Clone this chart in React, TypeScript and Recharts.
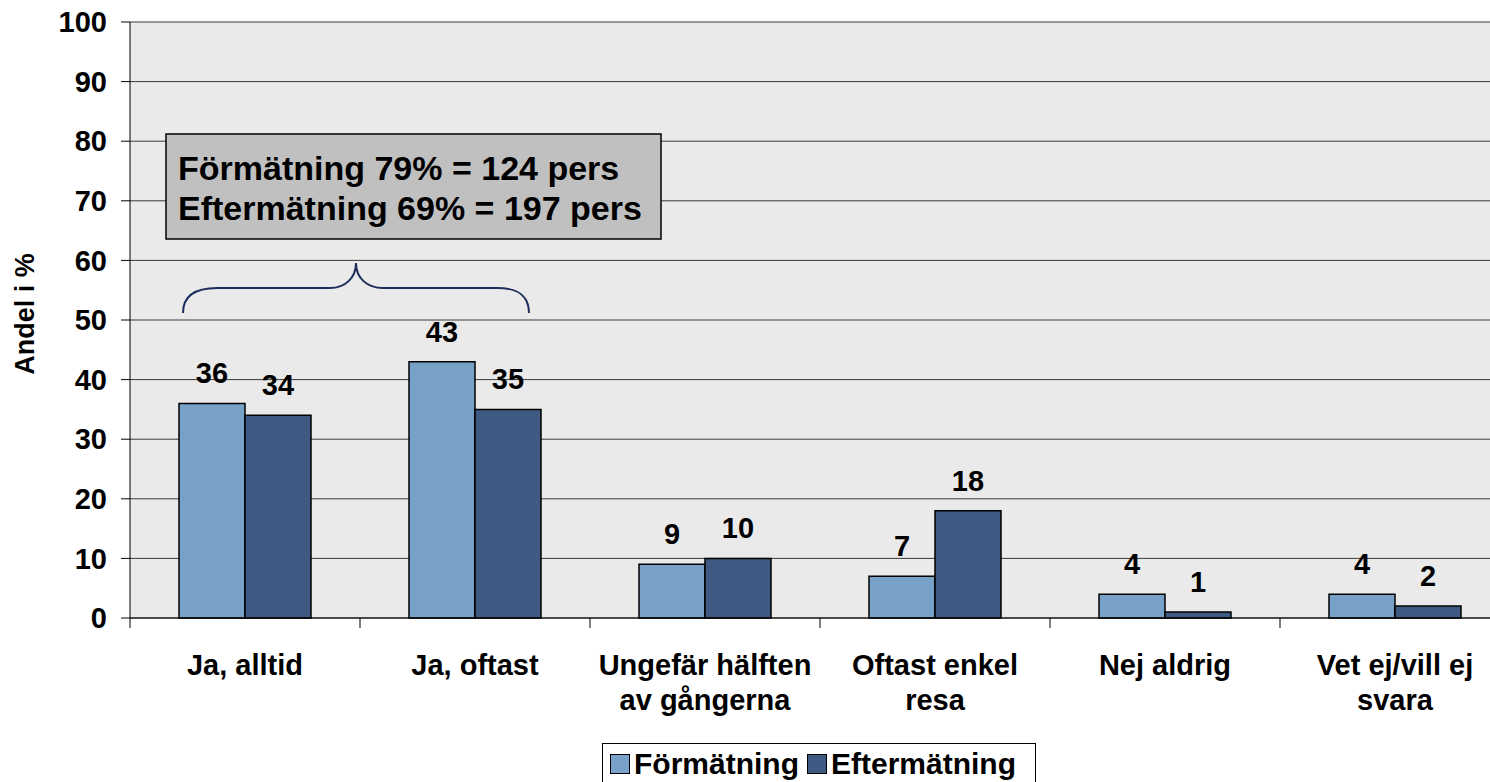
import { BarChart, Bar, XAxis, YAxis, CartesianGrid, Legend, LabelList, Customized } from "recharts";

const categories = ["Ja, alltid", "Ja, oftast", "Ungefär hälften av gångerna", "Oftast enkel resa", "Nej aldrig", "Vet ej/vill ej svara"];
const tickLines = [["Ja, alltid"], ["Ja, oftast"], ["Ungefär hälften", "av gångerna"], ["Oftast enkel", "resa"], ["Nej aldrig"], ["Vet ej/vill ej", "svara"]];
const formatning = [36, 43, 9, 7, 4, 4];
const eftermatning = [34, 35, 10, 18, 1, 2];
const yTicks = [0, 10, 20, 30, 40, 50, 60, 70, 80, 90, 100];
const noteLines = ["Förmätning 79% = 124 pers", "Eftermätning 69% = 197 pers"];

const data = categories.map((c, i) => ({ name: c, f: formatning[i], e: eftermatning[i] }));

const FONT = "'Liberation Sans', Arial, sans-serif";
const LIGHT = "#78A1C8";
const DARK = "#3E5A82";
const W = 1520;
const H = 782;
const LEFT = 130;
const RIGHT = 10;
const HALF = (W - LEFT - RIGHT) / categories.length / 2;

function XTick(props: any) {
    const { x, y, payload } = props;
    const lines = tickLines[payload.index] || [payload.value];
    return (
        <g>
            <line x1={x - HALF} x2={x - HALF} y1={y - 8} y2={y + 2} stroke="#000" />
            <text x={x} y={y + 49} textAnchor="middle" fontSize={29} fontWeight="bold" fontFamily={FONT} fill="#000">
                {lines.map((l: string, i: number) => (
                    <tspan key={i} x={x} dy={i === 0 ? 0 : 35}>{l}</tspan>
                ))}
            </text>
        </g>
    );
}

function Notes() {
    return (
        <g>
            <text x={25} y={314} transform="rotate(-90 25 314)" textAnchor="middle" dominantBaseline="central" fontSize={27} fontWeight="bold" fontFamily={FONT}>Andel i %</text>
            <rect x={166} y={134} width={495} height={105} fill="#C0C0C0" stroke="#000" strokeWidth={1.5} />
            {noteLines.map((l, i) => (
                <text key={i} x={178} y={180 + i * 40} fontSize={34} fontWeight="bold" fontFamily={FONT} fill="#000">{l}</text>
            ))}
            <path d="M183,313 C183,296 195,288 217,288 L330,288 C345,288 356,278 356,263 C356,278 367,288 383,288 L497,288 C519,288 529,296 529,313" fill="none" stroke="#1F2D5C" strokeWidth={2} />
        </g>
    );
}

function LegendBox() {
    const items = [{ label: "Förmätning", color: LIGHT }, { label: "Eftermätning", color: DARK }];
    return (
        <div style={{ border: "1px solid #000", width: 434, height: 60, background: "#fff", display: "flex", alignItems: "flex-start", paddingLeft: 7, boxSizing: "border-box", fontFamily: FONT, fontWeight: "bold", fontSize: 30 }}>
            {items.map((it) => (
                <div key={it.label} style={{ display: "flex", alignItems: "center", marginTop: 4, marginRight: 8, lineHeight: "32px" }}>
                    <span style={{ display: "inline-block", width: 18, height: 18, background: it.color, border: "1.5px solid #000", marginRight: 4 }} />
                    <span>{it.label}</span>
                </div>
            ))}
        </div>
    );
}

export default function App() {
    return (
        <div style={{ position: "fixed", left: 0, top: 0, width: 1490, height: H, overflow: "hidden", background: "#fff" }}>
            <BarChart width={W} height={H} data={data} margin={{ top: 22, right: RIGHT, left: 0, bottom: 0 }} barGap={0} barSize={66}>
                <CartesianGrid vertical={false} fill="#EAEAEA" stroke="#3a3a3a" fillOpacity={1} />
                <XAxis dataKey="name" height={164} interval={0} tickLine={false} axisLine={{ stroke: "#000" }} tick={<XTick />} />
                <YAxis
                    width={LEFT}
                    domain={[0, 100]}
                    ticks={yTicks}
                    interval={0}
                    tickSize={9}
                    tickMargin={14}
                    axisLine={{ stroke: "#000" }}
                    tickLine={{ stroke: "#000" }}
                    tick={{ fontSize: 29, fontWeight: "bold", fontFamily: FONT, fill: "#000" }}
                />
                <Legend layout="horizontal" verticalAlign="middle" align="center" wrapperStyle={{ top: 743, left: 602, width: 434 }} content={() => <LegendBox />} />
                <Bar dataKey="f" name="Förmätning" fill={LIGHT} stroke="#000" strokeWidth={1.5} isAnimationActive={false}>
                    <LabelList dataKey="f" position="top" offset={20} fontSize={29} fontWeight="bold" fontFamily={FONT} fill="#000" />
                </Bar>
                <Bar dataKey="e" name="Eftermätning" fill={DARK} stroke="#000" strokeWidth={1.5} isAnimationActive={false}>
                    <LabelList dataKey="e" position="top" offset={20} fontSize={29} fontWeight="bold" fontFamily={FONT} fill="#000" />
                </Bar>
                <Customized component={Notes} />
            </BarChart>
        </div>
    );
}
